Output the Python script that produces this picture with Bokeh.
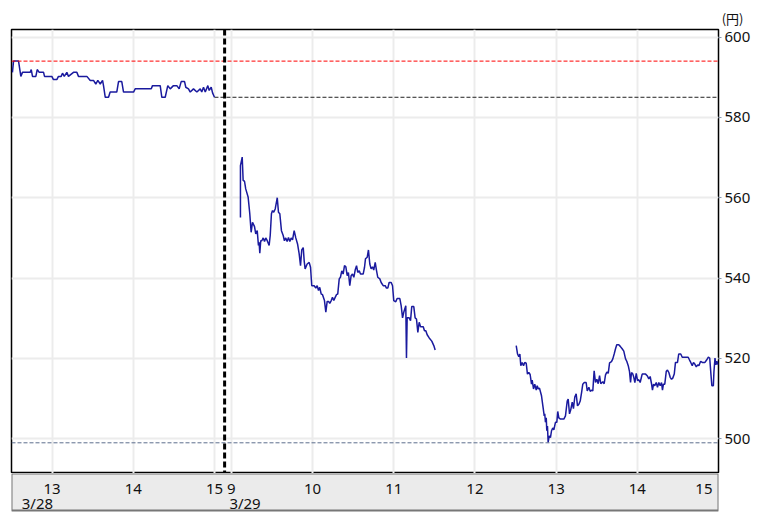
from bokeh.plotting import figure
from bokeh.models import Range1d, FixedTicker, Span, Title, ColumnDataSource
from bokeh.layouts import column
from bokeh.embed import file_html
from bokeh.resources import INLINE
from bokeh.core.properties import value

# ---------------- data ----------------
day1_date = "3/28"
day2_date = "3/29"
unit_label = "(円)"

# 3/28 afternoon session: minutes after 12:30
day1_min = [0.7, 1.5, 5.2, 6.9, 8.1, 13.8, 14.6, 15.5, 18.0, 19.0,
            20.5, 23.7, 24.4, 29.8, 31.0, 33.5, 34.7, 36.7, 37.7, 39.0,
            40.9, 42.1, 45.8, 48.3, 49.5, 55.7, 58.2, 60.6, 62.3, 63.8,
            65.6, 67.3, 68.0, 69.3, 71.7, 72.9, 77.8, 79.1, 81.5, 82.8,
            90.2, 91.4, 103.3, 104.2, 109.9, 111.1, 113.6, 115.5, 117.3, 119.7,
            122.2, 123.9, 125.4, 127.9, 128.8, 130.8, 132.1, 134.5, 137.0, 139.5,
            140.6, 141.9, 143.2, 145.1, 146.1, 147.6, 148.6, 150.0]
day1_price = [591.2, 594.0, 594.0, 590.2, 591.2, 591.2, 591.9, 590.2, 590.2, 591.9,
              591.2, 591.2, 590.2, 590.2, 589.4, 589.4, 590.2, 590.2, 591.0, 590.2,
              591.2, 590.2, 591.2, 591.2, 590.2, 590.2, 589.2, 589.2, 588.3, 589.2,
              588.3, 589.2, 587.9, 585.0, 585.0, 586.3, 586.3, 588.9, 588.9, 586.3,
              586.3, 587.1, 587.1, 587.9, 587.9, 585.0, 585.0, 587.9, 587.1, 587.9,
              587.9, 587.1, 588.9, 588.9, 587.5, 587.1, 586.3, 587.1, 586.3, 587.1,
              586.3, 587.5, 586.3, 587.9, 586.7, 587.5, 586.1, 585.0]

# 3/29 morning session: minutes after 9:00
am_min = [6.7, 6.7, 8.0, 8.7, 9.7, 10.6, 12.4, 13.6, 14.6, 15.6,
          17.1, 18.0, 19.1, 20.0, 20.5, 21.0, 21.7, 22.5, 23.5, 24.5,
          25.4, 26.5, 27.9, 28.7, 29.6, 30.4, 31.3, 32.4, 33.9, 34.8,
          35.8, 37.0, 38.3, 39.2, 40.2, 41.2, 42.2, 43.2, 44.2, 45.2,
          46.4, 47.6, 48.9, 50.1, 51.1, 52.0, 53.1, 53.8, 54.5, 56.0,
          57.5, 58.5, 59.4, 61.2, 62.4, 63.4, 64.4, 65.3, 66.4, 67.3,
          68.8, 69.8, 70.8, 71.8, 72.7, 73.8, 74.7, 75.7, 76.7, 77.7,
          78.6, 79.7, 80.6, 81.6, 82.6, 83.6, 84.6, 85.6, 86.5, 87.5,
          88.5, 89.5, 90.5, 91.5, 92.5, 93.4, 94.5, 95.4, 97.4, 98.4,
          99.1, 100.4, 101.3, 102.3, 103.3, 104.3, 105.2, 106.3, 107.2, 108.2,
          109.7, 110.7, 112.2, 113.7, 114.6, 115.6, 116.6, 118.1, 119.1, 120.0,
          121.5, 122.5, 124.5, 125.5, 126.5, 127.4, 128.9, 129.4, 129.9, 131.4,
          132.4, 133.3, 134.8, 135.8, 136.8, 137.8, 138.8, 139.8, 141.8, 142.7,
          143.7, 144.7, 146.2, 148.1, 149.6, 150.6]
am_price = [555.1, 568.0, 570.1, 564.3, 564.1, 562.2, 560.1, 556.0, 551.4, 553.9,
            552.8, 551.0, 551.8, 548.1, 548.9, 546.2, 549.3, 549.3, 550.0, 549.1,
            550.0, 549.3, 548.1, 550.6, 556.0, 556.8, 556.4, 557.2, 560.0, 556.4,
            556.0, 551.8, 550.6, 549.3, 550.0, 549.1, 550.1, 549.1, 550.0, 549.5,
            551.8, 550.0, 548.5, 546.0, 543.1, 547.0, 547.6, 544.3, 542.3, 543.5,
            543.9, 542.7, 538.1, 538.1, 537.5, 538.1, 536.9, 537.7, 536.0, 535.9,
            534.4, 531.5, 534.2, 534.2, 533.7, 534.4, 535.2, 534.4, 535.2, 535.9,
            536.0, 539.8, 540.2, 541.8, 541.0, 543.1, 542.8, 540.6, 541.4, 538.1,
            540.6, 541.0, 540.2, 542.0, 543.1, 541.4, 541.8, 541.0, 541.0, 542.7,
            544.8, 545.2, 547.0, 543.5, 542.3, 542.8, 542.0, 543.9, 542.0, 540.2,
            539.8, 538.9, 538.1, 538.1, 537.5, 537.5, 538.9, 538.9, 538.1, 534.4,
            534.1, 534.9, 534.9, 533.1, 530.1, 531.5, 533.1, 520.1, 530.1, 530.1,
            529.4, 532.9, 532.9, 530.1, 529.8, 526.5, 529.0, 527.9, 527.9, 526.9,
            526.9, 525.9, 525.1, 524.3, 523.2, 522.1]

# 3/29 afternoon session: minutes after 9:00
pm_min = [210.5, 211.5, 212.4, 213.2, 213.9, 214.9, 215.9, 216.8, 217.9, 218.8,
          219.8, 220.8, 221.8, 222.3, 223.3, 224.2, 225.3, 226.0, 226.8, 227.7,
          229.2, 230.2, 231.2, 231.6, 232.1, 232.7, 233.1, 233.6, 234.1, 234.9,
          235.8, 236.6, 237.5, 238.3, 239.5, 240.5, 241.2, 242.0, 243.2, 245.7,
          246.9, 248.2, 248.9, 249.9, 250.8, 251.9, 252.8, 253.8, 254.8, 255.8,
          256.8, 257.8, 258.8, 259.7, 260.8, 262.2, 263.0, 264.2, 265.2, 266.1,
          267.1, 268.1, 269.1, 270.1, 271.1, 272.1, 273.0, 274.5, 275.5, 276.5,
          277.5, 278.5, 279.5, 280.9, 281.9, 282.9, 283.9, 284.8, 286.3, 287.4,
          288.8, 290.0, 291.3, 292.2, 293.3, 294.2, 295.0, 295.7, 296.7, 297.4,
          298.2, 299.2, 300.2, 301.1, 302.1, 303.6, 306.1, 307.3, 308.5, 309.5,
          310.5, 311.2, 312.0, 312.9, 314.0, 314.9, 315.9, 316.9, 317.9, 318.6,
          319.3, 320.3, 321.4, 322.3, 323.3, 324.3, 325.3, 326.2, 327.3, 328.2,
          329.7, 330.6, 332.1, 333.2, 337.6, 338.6, 339.5, 340.6, 341.5, 342.5,
          343.6, 344.6, 345.5, 346.8, 348.0, 350.0, 351.2, 352.5, 353.5, 354.4,
          355.1, 356.2, 356.6, 357.4, 358.1, 358.8, 359.8]
pm_price = [523.2, 521.1, 520.4, 521.1, 518.2, 519.0, 518.2, 519.0, 518.8, 516.1,
            516.5, 516.0, 513.6, 514.6, 512.4, 513.6, 512.1, 513.2, 512.4, 512.6,
            510.7, 508.2, 505.7, 506.2, 504.1, 505.2, 502.0, 503.2, 499.1, 500.7,
            500.3, 502.0, 502.7, 502.2, 504.1, 504.1, 506.8, 505.2, 504.9, 504.9,
            505.7, 509.4, 509.9, 506.2, 507.2, 509.1, 507.5, 510.4, 511.2, 508.2,
            508.6, 509.4, 511.5, 513.6, 514.0, 514.0, 511.9, 512.8, 511.8, 512.1,
            511.9, 516.9, 514.0, 514.8, 513.7, 515.7, 513.7, 514.2, 513.7, 515.9,
            516.6, 516.3, 518.9, 519.2, 519.9, 521.1, 522.4, 523.4, 523.4, 523.0,
            522.4, 521.8, 519.9, 519.3, 518.2, 516.8, 514.0, 516.5, 516.1, 515.3,
            514.0, 516.3, 514.5, 514.7, 514.0, 516.1, 516.1, 515.7, 514.9, 515.5,
            513.7, 512.1, 513.6, 513.2, 514.0, 512.8, 514.0, 513.2, 514.0, 512.1,
            513.6, 513.6, 516.8, 517.1, 516.5, 515.3, 514.8, 515.1, 516.1, 519.0,
            519.0, 521.1, 521.1, 520.3, 520.3, 519.6, 519.0, 518.2, 519.0, 518.6,
            517.9, 518.4, 518.2, 519.3, 519.0, 519.0, 519.6, 520.3, 520.1, 516.1,
            513.2, 513.2, 516.5, 520.1, 518.4, 519.3, 518.4]

high_ref = 594.0      # red dashed
prev_close = 585.0    # black dashed (3/28 close)
low_ref = 499.0       # blue dashed

y_ticks = [500, 520, 540, 560, 580, 600]
day1_hours = [13, 14, 15]
day2_hours = [9, 10, 11, 12, 13, 14, 15]

# ---------------- time axis (trading minutes) ----------------
DAY1_OPEN_H = 12.5
DAY1_CLOSE_X = (15 - DAY1_OPEN_H) * 60          # 150
OVERNIGHT_GAP = 12.5
DAY2_X0 = DAY1_CLOSE_X + OVERNIGHT_GAP          # 9:00 on 3/29
X_END = DAY2_X0 + (15 - 9) * 60
DIVIDER_X = DAY1_CLOSE_X + OVERNIGHT_GAP * 0.6

day1_x = list(day1_min)
am_x = [DAY2_X0 + m for m in am_min]
pm_x = [DAY2_X0 + m for m in pm_min]
tick_x = [(h - DAY1_OPEN_H) * 60 for h in day1_hours] + [DAY2_X0 + (h - 9) * 60 for h in day2_hours]
tick_txt = [str(h) for h in day1_hours + day2_hours]

FONT = "Noto Sans"
LINE_C = "#1a1a9e"
GRID_C = "#ececec"

p = figure(width=762, height=473, x_range=Range1d(0, X_END), y_range=Range1d(491.36, 601.87),
           output_backend="svg", toolbar_location=None, title=None,
           x_axis_location=None, y_axis_location="right",
           min_border_left=11, min_border_right=44, min_border_top=29, min_border_bottom=0)
p.outline_line_color = "black"
p.outline_line_width = 1.5
p.background_fill_color = "white"
p.border_fill_color = "white"

p.add_layout(Title(text=unit_label, align="right", offset=-25, text_font="Noto Sans CJK JP",
                   text_font_size="13px", text_font_style="normal", text_color="#111111",
                   standoff=3), "above")

p.yaxis.ticker = FixedTicker(ticks=y_ticks)
p.yaxis.axis_line_color = None
p.yaxis.major_tick_in = 0
p.yaxis.major_tick_out = 3
p.yaxis.major_tick_line_color = "#8a9ab0"
p.yaxis.minor_tick_line_color = None
p.yaxis.major_label_standoff = 3
p.yaxis.major_label_text_font = FONT
p.yaxis.major_label_text_font_size = "15px"
p.yaxis.major_label_text_color = "#111111"
p.ygrid.grid_line_color = GRID_C
p.ygrid.grid_line_width = 2

# vertical grid lines at the hour ticks (the figure's own x grid, re-ticked)
p.xgrid.ticker = FixedTicker(ticks=tick_x)
p.xgrid.grid_line_color = GRID_C
p.xgrid.grid_line_width = 2

p.add_layout(Span(location=high_ref, dimension="width", line_color="#ff0000", line_width=1, line_dash="4 2"))
p.add_layout(Span(location=low_ref, dimension="width", line_color="#5d6e8e", line_width=1, line_dash="4 2"))
p.line([DAY1_CLOSE_X, X_END], [prev_close, prev_close], line_color="#222222", line_width=1, line_dash="4 2")

p.line(day1_x, day1_price, line_color=LINE_C, line_width=1.5)
p.line(am_x, am_price, line_color=LINE_C, line_width=1.5)
p.line(pm_x, pm_price, line_color=LINE_C, line_width=1.5)

p.add_layout(Span(location=DIVIDER_X, dimension="height", line_color="black", line_width=3, line_dash="6 3"))

# ---------------- bottom time band ----------------
BAND_H = 37
b = figure(width=762, height=BAND_H + 8, x_range=p.x_range, y_range=Range1d(-8, BAND_H),
           output_backend="svg", toolbar_location=None, title=None,
           x_axis_location=None, y_axis_location=None,
           min_border_left=11, min_border_right=44, min_border_top=0, min_border_bottom=0)
b.background_fill_color = "white"
b.border_fill_color = "white"
b.outline_line_color = None
b.grid.visible = False
b.quad(left=[0], right=[X_END], bottom=[0], top=[BAND_H], fill_color="#ebebeb",
       line_color="#777777", line_width=2)

aligns = ["right" if x >= X_END else "center" for x in tick_x]
offs = [-6 if x >= X_END else 0 for x in tick_x]
src = ColumnDataSource(dict(x=tick_x, t=tick_txt, a=aligns, o=offs, y=[21.5] * len(tick_x)))
b.text(x="x", y="y", text="t", text_align="a", x_offset="o", source=src,
       text_font=value(FONT), text_font_size="15px", text_baseline="middle", text_color="#111111")
b.text(x=[tick_x[0]], y=[7.5], text=[day1_date], text_align="right", x_offset=1,
       text_font=value(FONT), text_font_size="15px", text_baseline="middle", text_color="#111111")
b.text(x=[DAY2_X0], y=[7.5], text=[day2_date], text_align="left", x_offset=-2,
       text_font=value(FONT), text_font_size="15px", text_baseline="middle", text_color="#111111")

layout = column(p, b, spacing=0)
open("out.html", "w").write(file_html(layout, INLINE))
